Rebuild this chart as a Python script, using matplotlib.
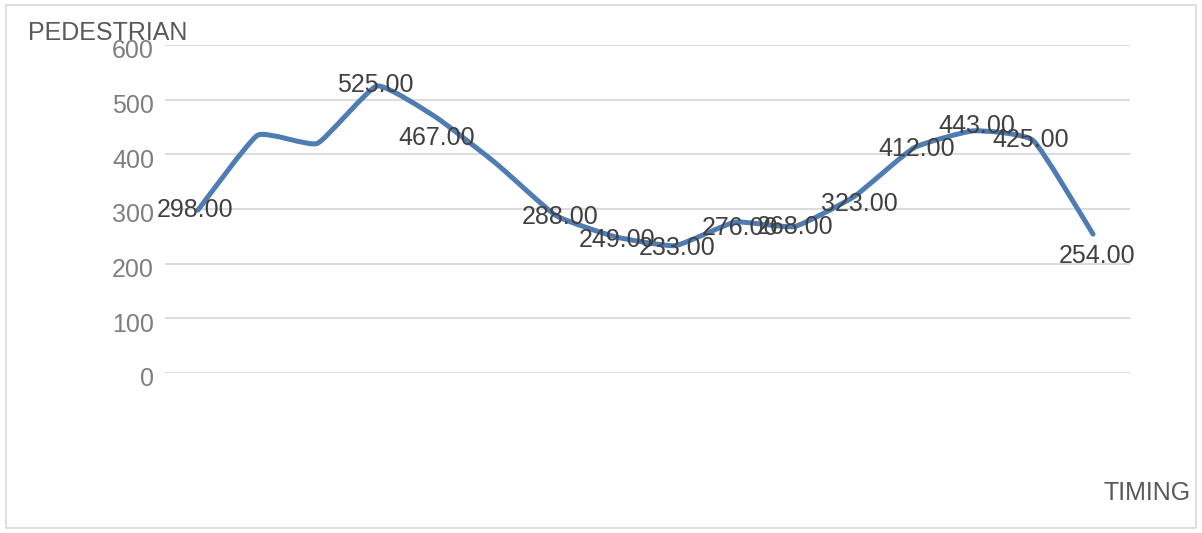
import matplotlib
matplotlib.use("Agg")
import matplotlib.pyplot as plt
from matplotlib.path import Path
from matplotlib.patches import PathPatch, Rectangle
from matplotlib.transforms import ScaledTranslation

# Pedestrian counts per timing slot
timing_slots = list(range(16))
pedestrians = [298, 435, 420, 525, 467, 383, 288, 249, 233, 276, 268, 323, 412, 443, 425, 254]
# slots that carry a value label
labelled_slots = [0, 3, 4, 6, 7, 8, 9, 10, 11, 12, 13, 14, 15]
y_ticks = [0, 100, 200, 300, 400, 500, 600]

# label nudges in pixels (dx, dy) relative to the point
label_nudges = {0: (-3, 0), 3: (-2, 1), 4: (0, -20), 6: (4, -1), 7: (1, -3),
                8: (2, -2), 9: (5, -6), 10: (0, -1), 11: (5, -8), 12: (3, -1),
                13: (3, 5), 14: (-3, 1), 15: (4, -22)}

plt.rcParams['font.family'] = ['Liberation Sans', 'DejaVu Sans']

fig = plt.figure(figsize=(12.02, 5.33), dpi=100)
W, H = 1202, 533

# outer chart frame
fig.patches.append(Rectangle((6 / W, 1 - 528 / H), 1190 / W, 523 / H,
                             transform=fig.transFigure, fill=False,
                             edgecolor='#d9d9d9', linewidth=1.2))

left, right, top, bottom = 165, 1130, 45, 373
ax = fig.add_axes([left / W, 1 - bottom / H, (right - left) / W, (bottom - top) / H])
ax.set_xlim(-0.553, 15.62)
ax.set_ylim(0, 600)
ax.set_yticks(y_ticks)
ax.set_xticks([])
for s in ax.spines.values():
    s.set_visible(False)
ax.grid(axis='y', color='#d9d9d9', linewidth=1.3)
ax.set_axisbelow(True)
ax.tick_params(axis='y', length=0, pad=8, labelsize=18, labelcolor='#7f7f7f')
for lab in ax.get_yticklabels():
    lab.set_transform(lab.get_transform() + ScaledTranslation(0, -4 / 100, fig.dpi_scale_trans))

# gently smoothed line through the data points (cubic Bezier segments)
tension = 1 / 14
pts = list(zip(timing_slots, pedestrians))
verts = [pts[0]]
codes = [Path.MOVETO]
n = len(pts)
for i in range(n - 1):
    p0 = pts[i - 1] if i > 0 else pts[i]
    p1 = pts[i]
    p2 = pts[i + 1]
    p3 = pts[i + 2] if i + 2 < n else pts[i + 1]
    c1 = (p1[0] + (p2[0] - p0[0]) * tension, p1[1] + (p2[1] - p0[1]) * tension)
    c2 = (p2[0] - (p3[0] - p1[0]) * tension, p2[1] - (p3[1] - p1[1]) * tension)
    verts += [c1, c2, p2]
    codes += [Path.CURVE4] * 3
ax.add_patch(PathPatch(Path(verts, codes), facecolor='none', edgecolor='#4f7cb3',
                       linewidth=3.6, capstyle='round', joinstyle='round', zorder=3))

for i in labelled_slots:
    dx, dy = label_nudges.get(i, (0, 0))
    ax.annotate(f"{pedestrians[i]:.2f}", (timing_slots[i], pedestrians[i]),
                xytext=(dx, dy), textcoords='offset pixels',
                ha='center', va='center', fontsize=18, color='#404040', zorder=4)

fig.text(28 / W, 1 - 33 / H, "PEDESTRIAN", ha='left', va='center',
         fontsize=18, color='#595959')
fig.text(1103 / W, 1 - 493 / H, "TIMING", ha='left', va='center',
         fontsize=18, color='#595959')

fig.savefig("out.png", dpi=100)
